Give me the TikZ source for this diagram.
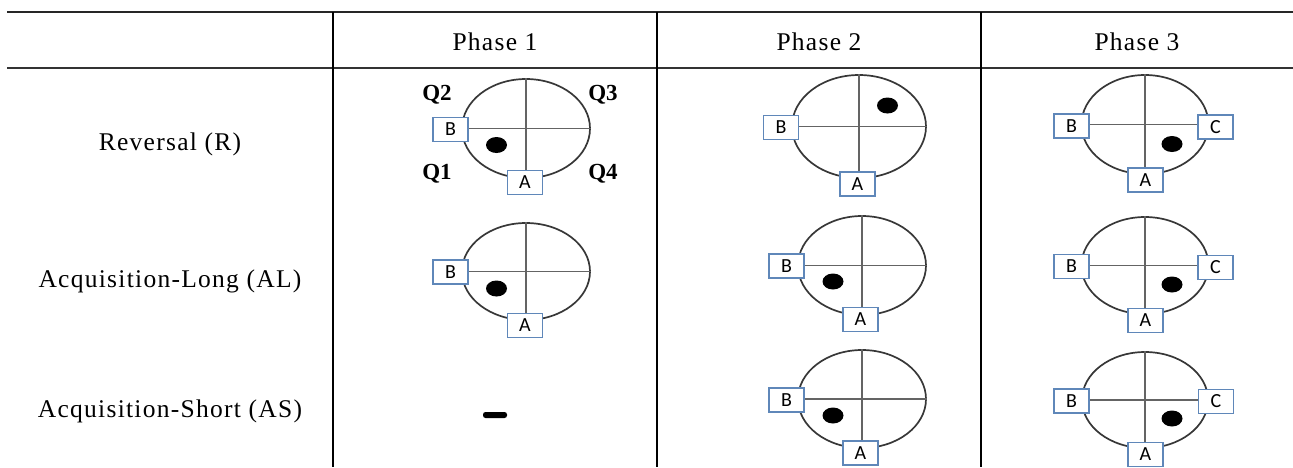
\documentclass[tikz,border=0pt]{standalone}
\usepackage{fontspec}
\setmainfont{Liberation Serif}
\newfontfamily\boxfont{Carlito}
\usetikzlibrary{shapes.geometric}
\definecolor{boxblue}{RGB}{95,135,185}
\definecolor{rim}{RGB}{55,55,55}
\definecolor{crossc}{RGB}{100,100,100}
\begin{document}
\begin{tikzpicture}[x=1pt,y=-1pt,
 pool/.style={draw=rim, line width=1.7pt, ellipse, inner sep=0pt},
 cross/.style={draw=crossc, line width=1.2pt},
 lbl/.style={draw=boxblue, line width=1.3pt, fill=white, inner sep=0pt, minimum width=35pt, minimum height=24pt, font=\boxfont\fontsize{20}{20}\selectfont},
 plat/.style={fill=black, ellipse, inner sep=0pt, minimum width=21pt, minimum height=16pt},
 head/.style={font=\fontsize{25.5}{25.5}\selectfont\addfontfeature{LetterSpace=5}, anchor=base},
 quad/.style={font=\fontsize{23}{23}\selectfont\bfseries, anchor=base},
 rule/.style={draw=black, line width=1.8pt}]
\useasboundingbox (0,0) rectangle (1293,467);
% table rules
\coordinate (tl) at (7,12);
\coordinate (tr) at (1293,12);
\coordinate (hl) at (7,68);
\coordinate (hr) at (1293,68);
\draw[draw=black!85, line width=2.6pt] (tl) -- (tr);
\draw[draw=black!80, line width=2.2pt] (hl) -- (hr);
\coordinate (v1t) at (333,12); \coordinate (v1b) at (333,467);
\coordinate (v2t) at (657,12); \coordinate (v2b) at (657,467);
\coordinate (v3t) at (981,12); \coordinate (v3b) at (981,467);
\draw[rule] (v1t) -- (v1b);
\draw[rule] (v2t) -- (v2b);
\draw[rule] (v3t) -- (v3b);
% headers
\node[head] (h1) at (495,50) {Phase 1};
\node[head] (h2) at (819,50) {Phase 2};
\node[head] (h3) at (1137,50) {Phase 3};
\node[head] (r1) at (170,150) {Reversal (R)};
\node[head] (r2) at (170,287) {Acquisition-Long (AL)};
\node[head] (r3) at (170,417) {Acquisition-Short (AS)};
% Row 1 Phase 1
\node[pool, minimum width=128pt, minimum height=99pt] (e11) at (526,128.5) {};
\draw[cross] (e11.west) -- (e11.east);
\draw[cross] (e11.north) -- (e11.south);
\node[lbl] (b11) at (450.5,129.5) {B};
\node[lbl] (a11) at (525,182.5) {A};
\node[plat] (d11) at (496.5,145) {};
\node[quad] (q2) at (437,100) {Q2};
\node[quad] (q3) at (603,100) {Q3};
\node[quad] (q1) at (437,179) {Q1};
\node[quad] (q4) at (603,179) {Q4};
% Row 1 Phase 2
\node[pool, minimum width=134pt, minimum height=103pt] (e12) at (859,126.5) {};
\draw[cross] (e12.west) -- (e12.east);
\draw[cross] (e12.north) -- (e12.south);
\node[lbl] (b12) at (781,127.5) {B};
\node[lbl] (a12) at (857.5,184) {A};
\node[plat] (d12) at (887.5,105.5) {};
% Row 1 Phase 3
\node[pool, minimum width=127pt, minimum height=99pt] (e13) at (1145,124.5) {};
\draw[cross] (e13.west) -- (e13.east);
\draw[cross] (e13.north) -- (e13.south);
\node[lbl] (b13) at (1071.5,126) {B};
\node[lbl] (c13) at (1215.5,127) {C};
\node[lbl] (a13) at (1145.5,180) {A};
\node[plat] (d13) at (1172,144) {};
% Row 2 Phase 1
\node[pool, minimum width=128pt, minimum height=97pt] (e21) at (526,271.5) {};
\draw[cross] (e21.west) -- (e21.east);
\draw[cross] (e21.north) -- (e21.south);
\node[lbl] (b21) at (450.5,272) {B};
\node[lbl] (a21) at (525,325.5) {A};
\node[plat] (d21) at (496.5,288.5) {};
% Row 2 Phase 2
\node[pool, minimum width=128pt, minimum height=99pt] (e22) at (862,265.5) {};
\draw[cross] (e22.west) -- (e22.east);
\draw[cross] (e22.north) -- (e22.south);
\node[lbl] (b22) at (786.5,266) {B};
\node[lbl] (a22) at (860.5,319.5) {A};
\node[plat] (d22) at (833,281.5) {};
% Row 2 Phase 3
\node[pool, minimum width=127pt, minimum height=97pt] (e23) at (1145,265.5) {};
\draw[cross] (e23.west) -- (e23.east);
\draw[cross] (e23.north) -- (e23.south);
\node[lbl] (b23) at (1071.5,266.5) {B};
\node[lbl] (c23) at (1215.5,267.5) {C};
\node[lbl] (a23) at (1145.5,320.5) {A};
\node[plat] (d23) at (1172,284.5) {};
% Row 3 Phase 1
\node[fill=black, rounded corners=2.5pt, minimum width=24pt, minimum height=6pt, inner sep=0pt] (dash) at (495,415) {};
% Row 3 Phase 2
\node[pool, minimum width=128pt, minimum height=98pt] (e32) at (862,399) {};
\draw[cross] (e32.west) -- (e32.east);
\draw[cross] (e32.north) -- (e32.south);
\node[lbl] (b32) at (786.5,400) {B};
\node[lbl] (a32) at (860.5,453) {A};
\node[plat] (d32) at (833,415.5) {};
% Row 3 Phase 3
\node[pool, minimum width=126pt, minimum height=96pt] (e33) at (1145,400) {};
\draw[cross] (e33.west) -- (e33.east);
\draw[cross] (e33.north) -- (e33.south);
\node[lbl] (b33) at (1071.5,401) {B};
\node[lbl] (c33) at (1216,401.5) {C};
\node[lbl] (a33) at (1145.5,454.5) {A};
\node[plat] (d33) at (1172,418.5) {};
\end{tikzpicture}
\end{document}
